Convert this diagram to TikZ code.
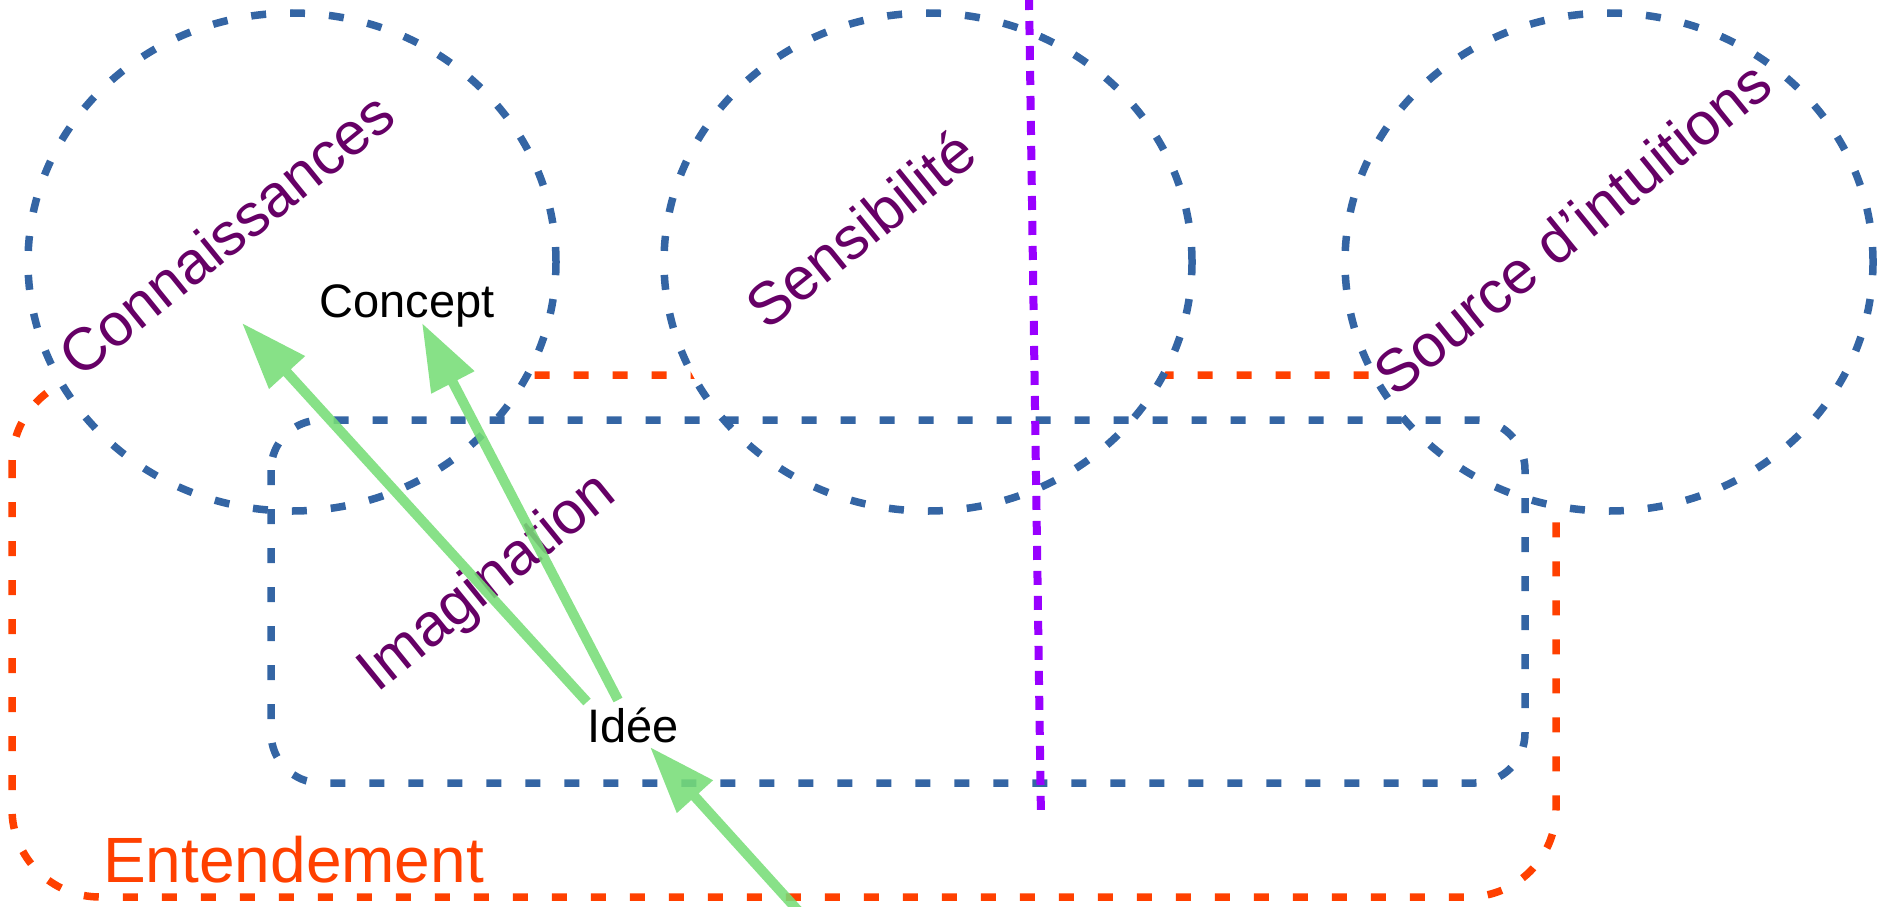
\documentclass[tikz,border=0pt]{standalone}
\usepackage{fontspec}
\setmainfont{Liberation Sans}
\usetikzlibrary{arrows.meta,shapes.geometric}
\definecolor{dashblue}{HTML}{3465A4}
\definecolor{entorange}{HTML}{FF4000}
\definecolor{labpurple}{HTML}{660066}
\definecolor{divpurple}{HTML}{9900FF}
\definecolor{arrgreen}{HTML}{77DD77}
\begin{document}
\begin{tikzpicture}[x=1pt,y=-1pt,
  bluedash/.style={draw=dashblue, line width=7.5pt, dash pattern=on 15pt off 24pt},
  orangedash/.style={draw=entorange, line width=7.5pt, dash pattern=on 15pt off 24pt},
  zone/.style={ellipse, bluedash, fill=white, minimum width=528pt, minimum height=498pt, inner sep=0pt},
  bigtext/.style={text=labpurple, font=\fontsize{60}{72}\selectfont, inner sep=0pt, rotate=39},
  smalltext/.style={font=\fontsize{47}{56}\selectfont, inner sep=0pt},
  flow/.style={draw=arrgreen, line width=10pt, -{Triangle[length=67pt,width=46pt]}}
]
\useasboundingbox (0,0) rectangle (1889,907);
\clip (0,0) rectangle (1889,907);
% Entendement
\draw[orangedash, rounded corners=88pt] (12,375) rectangle (1556,897);
% zones
\node[zone] (conn) at (292,262) {};
\node[zone] (sens) at (928,262) {};
\node[zone] (src) at (1609,262) {};
% Imagination
\draw[bluedash, rounded corners=50pt] (271,420) rectangle (1525,783);
% divider
\coordinate (divtop) at (1029,-4);
\coordinate (divbot) at (1041,819);
\draw[divpurple, line width=8pt, dash pattern=on 14pt off 11pt] (divtop) -- (divbot);
% labels
\node[bigtext] (lconn) at (226,234) {Connaissances};
\node[bigtext] (lsens) at (860,229) {Sensibilité};
\node[bigtext] (lsrc) at (1572,228) {Source d’intuitions};
\node[bigtext] (limag) at (488,584) {Imagination};
\node[text=entorange, font=\fontsize{64}{76}\selectfont, inner sep=0pt, anchor=base west] (lent) at (103,882) {Entendement};
\node[smalltext, anchor=base] (concept) at (407,317) {Concept};
\node[smalltext, anchor=base] (idee) at (633,742) {Idée};
% arrows
\coordinate (tailA) at (587,702);
\coordinate (tailB) at (618,700);
\coordinate (tipA) at (242,323);
\coordinate (tipB) at (422,323);
\coordinate (tipC) at (650,747);
\coordinate (srcC) at (802,915);
\begin{scope}[transparency group, opacity=0.88]
\draw[flow] (tailA) -- (tipA);
\draw[flow] (tailB) -- (tipB);
\draw[flow] (srcC) -- (tipC);
\end{scope}
\end{tikzpicture}
\end{document}
